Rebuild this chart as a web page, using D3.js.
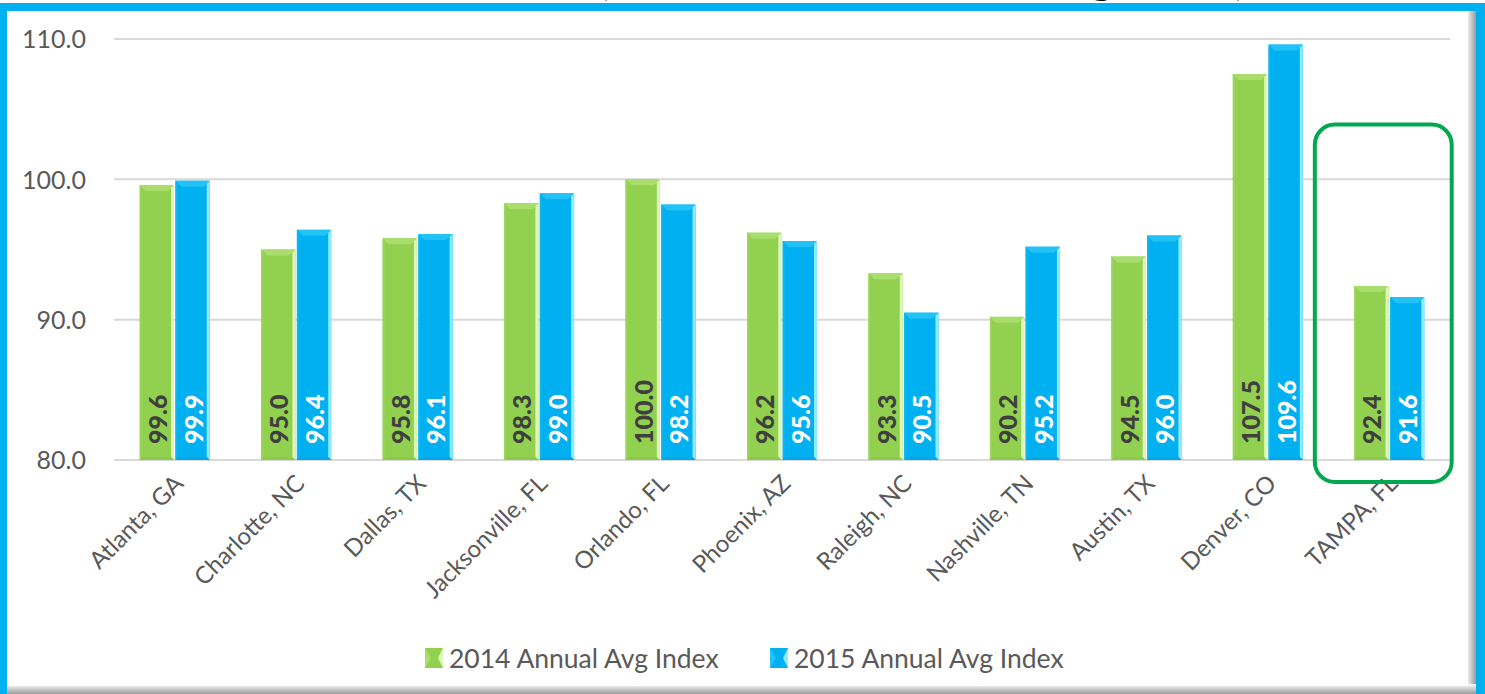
<!DOCTYPE html>
<html>
<head>
<meta charset="utf-8">
<script src="https://cdn.jsdelivr.net/npm/d3@7"></script>
<style>
  html, body { margin: 0; padding: 0; background: #ffffff; overflow: hidden; }
  svg { display: block; }
</style>
</head>
<body>
<svg id="chart" width="1485" height="694"></svg>
<script>
// ---------- data ----------
const categories = ["Atlanta, GA", "Charlotte, NC", "Dallas, TX", "Jacksonville, FL", "Orlando, FL",
  "Phoenix, AZ", "Raleigh, NC", "Nashville, TN", "Austin, TX", "Denver, CO", "TAMPA, FL"];
const series = ["2014 Annual Avg Index", "2015 Annual Avg Index"];
const values2014 = [99.6, 95.0, 95.8, 98.3, 100.0, 96.2, 93.3, 90.2, 94.5, 107.5, 92.4];
const values2015 = [99.9, 96.4, 96.1, 99.0, 98.2, 95.6, 90.5, 95.2, 96.0, 109.6, 91.6];
const yTicks = [80, 90, 100, 110];
const highlighted = "TAMPA, FL";
const titleText = "(2014 vs 2015 Annual Avg Index)";

// ---------- styles ----------
const W = 1485, H = 694;
const font = "Lato, 'Liberation Sans', sans-serif";
const palette = {
  "2014 Annual Avg Index": { main: "#92D050", top: "#A9DE6C", left: "#9AD558", right: "#DDF7B8", bottom: "#8CCB49", label: "#3F3F3F" },
  "2015 Annual Avg Index": { main: "#00B0F0", top: "#22C2F7", left: "#0BB6F2", right: "#8DEBFF", bottom: "#00A8E8", label: "#FFFFFF" }
};

const svg = d3.select("#chart");

// ---------- title (cropped by the top of the picture, as in the reference) ----------
svg.append("text")
  .attr("x", 598).attr("y", -5)
  .attr("font-family", font).attr("font-weight", "bold").attr("font-size", 36)
  .attr("fill", "#000000")
  .attr("textLength", 648).attr("lengthAdjust", "spacingAndGlyphs")
  .text(titleText);

// ---------- frame ----------
svg.append("rect").attr("x", 0).attr("y", 3).attr("width", W).attr("height", H).attr("fill", "#00B0F0");
svg.append("rect").attr("x", 7).attr("y", 11).attr("width", 1469).attr("height", 682).attr("fill", "#A6A6A6");
const defs = svg.append("defs");
const shR = defs.append("linearGradient").attr("id", "shR").attr("x1", 0).attr("x2", 1).attr("y1", 0).attr("y2", 0);
shR.append("stop").attr("offset", "0%").attr("stop-color", "#ffffff");
shR.append("stop").attr("offset", "100%").attr("stop-color", "#9a9a9a");
const shB = defs.append("linearGradient").attr("id", "shB").attr("x1", 0).attr("x2", 0).attr("y1", 0).attr("y2", 1);
shB.append("stop").attr("offset", "0%").attr("stop-color", "#ffffff");
shB.append("stop").attr("offset", "100%").attr("stop-color", "#9a9a9a");
svg.append("rect").attr("x", 1466).attr("y", 11).attr("width", 10).attr("height", 682).attr("fill", "url(#shR)");
svg.append("rect").attr("x", 7).attr("y", 684).attr("width", 1469).attr("height", 10).attr("fill", "url(#shB)");
svg.append("rect").attr("x", 7).attr("y", 11).attr("width", 1461).attr("height", 675).attr("fill", "#ffffff");

// ---------- scales ----------
const plotLeft = 114, plotRight = 1450;
const x0 = d3.scaleBand().domain(categories).range([plotLeft, plotRight]).paddingInner(0.4).paddingOuter(0.2);
const x1 = d3.scaleBand().domain(series).range([0, x0.bandwidth()]).padding(0.04);
const y = d3.scaleLinear().domain([80, 110]).range([460, 39]);

// ---------- gridlines ----------
svg.append("g").selectAll("line").data(yTicks).join("line")
  .attr("x1", plotLeft).attr("x2", plotRight)
  .attr("y1", d => y(d)).attr("y2", d => y(d))
  .attr("stroke", "#D9D9D9").attr("stroke-width", 2);

// ---------- y axis ----------
const yAxis = d3.axisLeft(y).tickValues(yTicks).tickFormat(d3.format(".1f")).tickSize(0).tickPadding(0);
const yg = svg.append("g").attr("transform", `translate(86,0)`).call(yAxis);
yg.select(".domain").remove();
yg.selectAll("text").attr("font-family", font).attr("font-size", 25).attr("fill", "#595959").attr("dy", "0.35em");

// ---------- bars ----------
const rows = categories.map((c, i) => ({ cat: c, vals: [
  { s: series[0], v: values2014[i] }, { s: series[1], v: values2015[i] }
]}));
const bev = 6;
const groups = svg.append("g").selectAll("g").data(rows).join("g")
  .attr("transform", d => `translate(${x0(d.cat)},0)`);
const bars = groups.selectAll("g.bar").data(d => d.vals).join("g").attr("class", "bar");
bars.each(function(d) {
  const g = d3.select(this);
  const c = palette[d.s];
  const bx = x1(d.s), bw = x1.bandwidth();
  const top = y(d.v), bot = y(80);
  g.append("rect").attr("x", bx).attr("y", top).attr("width", bw).attr("height", bot - top).attr("fill", c.main);
  g.append("polygon").attr("points", [[bx, top], [bx + bw, top], [bx + bw - bev, top + bev], [bx + bev, top + bev]].join(" ")).attr("fill", c.top);
  g.append("polygon").attr("points", [[bx, top], [bx + 2, top + 2], [bx + 2, bot - 2], [bx, bot]].join(" ")).attr("fill", c.left);
  g.append("polygon").attr("points", [[bx + bw, top], [bx + bw - 3, top + 3], [bx + bw - 3, bot - 3], [bx + bw, bot]].join(" ")).attr("fill", c.right);
  g.append("polygon").attr("points", [[bx, bot], [bx + bw, bot], [bx + bw - 3, bot - 3], [bx + 3, bot - 3]].join(" ")).attr("fill", c.bottom);
  g.append("text")
    .attr("transform", `translate(${bx + bw / 2 + 1},${bot - 16}) rotate(-90)`)
    .attr("dy", "0.36em")
    .attr("text-anchor", "start")
    .attr("font-family", font).attr("font-weight", "900").attr("font-size", 25)
    .attr("fill", c.label)
    .text(d3.format(".1f")(d.v));
});

// ---------- x labels ----------
svg.append("g").selectAll("text").data(categories).join("text")
  .attr("transform", d => `translate(${x0(d) + x0.bandwidth() / 2 + 10},${y(80) + 25}) rotate(-45)`)
  .attr("text-anchor", "end")
  .attr("font-family", font).attr("font-size", 24).attr("fill", "#595959")
  .text(d => d);

// ---------- highlight box ----------
svg.append("rect")
  .attr("x", x0(highlighted) - 38).attr("y", y(103.9))
  .attr("width", x0.bandwidth() + 64).attr("height", y(80) + 22 - y(103.9))
  .attr("rx", 20).attr("ry", 20)
  .attr("fill", "none").attr("stroke", "#00A850").attr("stroke-width", 4);

// ---------- legend ----------
const legendItems = [{ s: series[0], x: 425 }, { s: series[1], x: 770 }];
const lg = svg.append("g").selectAll("g").data(legendItems).join("g")
  .attr("transform", d => `translate(${d.x},648)`);
lg.append("rect").attr("width", 18).attr("height", 20).attr("fill", d => palette[d.s].main);
lg.append("polygon").attr("points", "0,0 6,10 0,20").attr("fill", d => palette[d.s].top);
lg.append("polygon").attr("points", "18,0 13,10 18,20").attr("fill", d => palette[d.s].right);
lg.append("text").attr("x", 24).attr("y", 10).attr("dy", "0.36em")
  .attr("font-family", font).attr("font-size", 26.5).attr("fill", "#595959")
  .text(d => d.s);
</script>
</body>
</html>
